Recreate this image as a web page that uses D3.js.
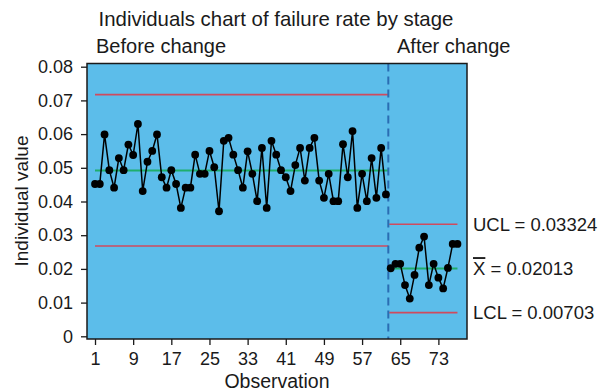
<!DOCTYPE html>
<html>
<head>
<meta charset="utf-8">
<script src="https://cdn.jsdelivr.net/npm/d3@7"></script>
<style>
  html, body { margin: 0; padding: 0; background: #fff; }
  text { font-family: "Liberation Sans", Arial, sans-serif; fill: #1a1a1a; }
</style>
</head>
<body>
<div id="container"></div>
<script>
// failure rate per observation, before the change (obs 1-62)
const beforeValues = [
  0.0452, 0.0452, 0.0599, 0.0493, 0.0441, 0.0529, 0.0493, 0.0569, 0.0538, 0.0630,
  0.0431, 0.0518, 0.0550, 0.0599, 0.0472, 0.0441, 0.0493, 0.0452, 0.0381, 0.0441,
  0.0441, 0.0539, 0.0482, 0.0482, 0.0550, 0.0502, 0.0371, 0.0580, 0.0589, 0.0539,
  0.0493, 0.0441, 0.0549, 0.0482, 0.0401, 0.0559, 0.0381, 0.0580, 0.0539, 0.0493,
  0.0472, 0.0431, 0.0508, 0.0559, 0.0462, 0.0559, 0.0589, 0.0462, 0.0411, 0.0482,
  0.0401, 0.0401, 0.0570, 0.0472, 0.0609, 0.0381, 0.0482, 0.0401, 0.0529, 0.0411,
  0.0559, 0.0421
];
// after the change (obs 63-77)
const afterValues = [
  0.0202, 0.0215, 0.0215, 0.0152, 0.0112, 0.0182, 0.0263, 0.0296, 0.0152, 0.0215,
  0.0174, 0.0142, 0.0203, 0.0274, 0.0274
];
const stageNames = ['Before change', 'After change'];
// control limits per stage: [LCL, CL, UCL]
const beforeLimits = [0.0268, 0.0492, 0.0717];
const afterLimits = [0.00703, 0.02013, 0.03324];
const xTicks = [1, 9, 17, 25, 33, 41, 49, 57, 65, 73];
const yTicks = [0, 0.01, 0.02, 0.03, 0.04, 0.05, 0.06, 0.07, 0.08];
const stageBreak = 62.5;

const width = 603, height = 391;
const plot = { left: 87, right: 467, top: 63.5, bottom: 339 };

const svg = d3.select('#container')
  .append('svg')
    .attr('width', width)
    .attr('height', height);

const xScale = d3.scaleLinear().domain([-0.68, 79]).range([plot.left, plot.right]);
const yScale = d3.scaleLinear().domain([0, 0.08]).range([336.3, 66.7]);

// plot background
svg.append('rect')
  .attr('x', plot.left).attr('y', plot.top)
  .attr('width', plot.right - plot.left)
  .attr('height', plot.bottom - plot.top)
  .attr('fill', '#5cbdea');

// axes
const yAxis = svg.append('g')
  .attr('transform', `translate(${plot.left},0)`)
  .call(d3.axisLeft(yScale).tickValues(yTicks).tickFormat(d => d === 0 ? '0' : d3.format('.2f')(d))
        .tickSize(6).tickSizeOuter(0).tickPadding(8));
yAxis.select('.domain').remove();
yAxis.selectAll('text').style('font-size', '18px').attr('fill', '#1a1a1a')
  .style('font-family', '"Liberation Sans", Arial, sans-serif');
yAxis.selectAll('line').attr('stroke', '#1a1a1a').attr('stroke-width', 1.3);

const xAxis = svg.append('g')
  .attr('transform', `translate(0,${plot.bottom})`)
  .call(d3.axisBottom(xScale).tickValues(xTicks).tickSize(6).tickSizeOuter(0).tickPadding(7));
xAxis.select('.domain').remove();
xAxis.selectAll('text').style('font-size', '18px').attr('fill', '#1a1a1a')
  .style('font-family', '"Liberation Sans", Arial, sans-serif');
xAxis.selectAll('line').attr('stroke', '#1a1a1a').attr('stroke-width', 1.3);

// control limit lines for each stage
function drawLimits(limits, x0, x1) {
  limits.forEach((v, i) => {
    svg.append('line')
      .attr('x1', xScale(x0)).attr('x2', xScale(x1))
      .attr('y1', yScale(v)).attr('y2', yScale(v))
      .attr('stroke', i === 1 ? '#1fae6c' : '#cf4b5e')
      .attr('stroke-width', i === 1 ? 2 : 1.6);
  });
}
drawLimits(beforeLimits, 1, stageBreak);
drawLimits(afterLimits, stageBreak + 0.2, beforeValues.length + afterValues.length);

// stage divider
svg.append('line')
  .attr('x1', xScale(stageBreak)).attr('x2', xScale(stageBreak))
  .attr('y1', plot.top).attr('y2', plot.bottom)
  .attr('stroke', '#2a6db3')
  .attr('stroke-width', 2)
  .attr('stroke-dasharray', '8,5');

// data series
const beforeData = beforeValues.map((v, i) => ({ obs: i + 1, value: v }));
const afterData = afterValues.map((v, i) => ({ obs: beforeValues.length + i + 1, value: v }));

const line = d3.line()
  .x(d => xScale(d.obs))
  .y(d => yScale(d.value));

[beforeData, afterData].forEach(data => {
  svg.append('path')
    .datum(data)
    .attr('d', line)
    .attr('fill', 'none')
    .attr('stroke', '#000')
    .attr('stroke-width', 1.5);

  svg.selectAll(null)
    .data(data)
    .enter()
    .append('circle')
      .attr('cx', d => xScale(d.obs))
      .attr('cy', d => yScale(d.value))
      .attr('r', 3.9)
      .attr('fill', '#000');
});

// plot border
svg.append('rect')
  .attr('x', plot.left).attr('y', plot.top)
  .attr('width', plot.right - plot.left)
  .attr('height', plot.bottom - plot.top)
  .attr('fill', 'none')
  .attr('stroke', '#1a1a1a')
  .attr('stroke-width', 1.5);

// limit labels on the right
const labelX = 473;
svg.append('text')
  .attr('x', labelX).attr('y', yScale(afterLimits[2])).attr('dy', '0.36em')
  .style('font-size', '18.5px')
  .text('UCL = ' + afterLimits[2].toFixed(5));

const xbar = svg.append('text')
  .attr('x', labelX).attr('y', yScale(afterLimits[1])).attr('dy', '0.36em')
  .style('font-size', '18.5px');
xbar.append('tspan').style('text-decoration', 'overline').text('X');
xbar.append('tspan').text(' = ' + afterLimits[1].toFixed(5));

svg.append('text')
  .attr('x', labelX).attr('y', yScale(afterLimits[0])).attr('dy', '0.36em')
  .style('font-size', '18.5px')
  .text('LCL = ' + afterLimits[0].toFixed(5));

// titles
svg.append('text')
  .attr('x', 276).attr('y', 26)
  .attr('text-anchor', 'middle')
  .style('font-size', '20.4px')
  .text('Individuals chart of failure rate by stage');

svg.append('text')
  .attr('x', 96).attr('y', 53)
  .style('font-size', '20px')
  .text(stageNames[0]);

svg.append('text')
  .attr('x', 397).attr('y', 52.5)
  .style('font-size', '20px')
  .text(stageNames[1]);

svg.append('text')
  .attr('x', 277).attr('y', 388)
  .attr('text-anchor', 'middle')
  .style('font-size', '19.5px')
  .text('Observation');

svg.append('text')
  .attr('transform', 'translate(28,201) rotate(-90)')
  .attr('text-anchor', 'middle')
  .style('font-size', '19px')
  .text('Individual value');
</script>
</body>
</html>
